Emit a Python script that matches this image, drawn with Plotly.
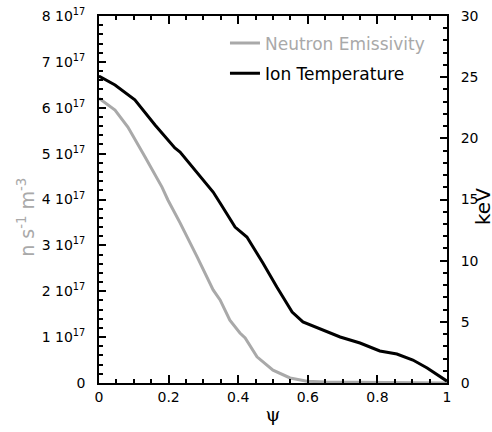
import plotly.graph_objects as go

# Ion temperature (keV) vs psi
psi_ti = [0.0, 0.003, 0.046, 0.103, 0.161, 0.218, 0.233, 0.276, 0.328, 0.348, 0.391, 0.425,
          0.471, 0.511, 0.555, 0.586, 0.635, 0.693, 0.750, 0.807, 0.856, 0.902, 0.943, 0.980, 1.0]
ti_kev = [25.05, 25.04, 24.36, 23.14, 21.09, 19.21, 18.88, 17.41, 15.61, 14.71, 12.75, 11.93,
          9.81, 7.85, 5.80, 4.99, 4.41, 3.76, 3.27, 2.62, 2.37, 1.88, 1.23, 0.49, 0.15]

# Neutron emissivity (n s^-1 m^-3) vs psi
psi_ne = [0.0, 0.003, 0.046, 0.083, 0.132, 0.181, 0.198, 0.233, 0.282, 0.328, 0.348, 0.376,
          0.405, 0.420, 0.454, 0.500, 0.549, 0.598, 0.65, 0.75, 0.85, 0.95, 1.0]
ne_e17 = [6.20, 6.19, 5.95, 5.58, 4.93, 4.27, 3.99, 3.49, 2.75, 2.03, 1.81, 1.37,
          1.09, 0.98, 0.57, 0.28, 0.11, 0.04, 0.02, 0.01, 0.01, 0.0, 0.0]
ne_vals = [v * 1e17 for v in ne_e17]

# tick label text for the left axis (default d3 ".0e" labels mapped to "N 10^17")
NB = "\u00a0"
left_alias = {"0e+0": "0" + NB * 2}
left_alias.update({f"{i}e+17": f"{i} 10<sup>17</sup>" + NB * 2 for i in range(1, 9)})

GRAY = "#a9a9a9"
FONT = "DejaVu Sans"
CLEAR = "rgba(0,0,0,0)"

fig = go.Figure()
fig.add_trace(go.Scatter(
    x=psi_ne, y=ne_vals, mode="lines", xaxis="x", yaxis="y",
    line=dict(color=GRAY, width=3),
    name=f"<span style='color:{GRAY}'>Neutron Emissivity</span>",
    legendgroup="a",
))
fig.add_trace(go.Scatter(
    x=psi_ti, y=ti_kev, mode="lines", xaxis="x", yaxis="y2",
    line=dict(color="black", width=3),
    name="Ion Temperature",
    legendgroup="b",
))

common = dict(showline=True, linecolor="black", linewidth=2,
              gridcolor=CLEAR, zerolinecolor=CLEAR,
              ticks="inside", tickwidth=2, tickcolor="black", automargin=False)

fig.update_layout(
    width=492, height=432,
    margin=dict(l=99, r=45, t=16, b=49),
    paper_bgcolor="white", plot_bgcolor="white",
    font=dict(family=FONT, size=14, color="black"),
    showlegend=True,
    legend=dict(x=0.362, y=0.974, xanchor="left", yanchor="top",
                bgcolor=CLEAR, borderwidth=0,
                font=dict(family=FONT, size=17, color="black"),
                tracegroupgap=5),
    xaxis=dict(range=[0, 1], tickmode="linear", tick0=0, dtick=0.2,
               mirror="ticks", ticklen=8,
               minor=dict(dtick=0.05, tick0=0, ticks="inside", ticklen=4,
                          tickcolor="black"),
               title=dict(text="ψ", font=dict(family="DejaVu Serif", size=19), standoff=4),
               **common),
    yaxis=dict(range=[0, 8e17], tickmode="linear", tick0=0, dtick=1e17,
               tickformat=".0e", labelalias=left_alias, ticklen=7,
               minor=dict(dtick=0.2e17, tick0=0, ticks="inside", ticklen=4,
                          tickcolor="black"),
               **common),
    yaxis2=dict(range=[0, 30], overlaying="y", side="right",
                tickmode="linear", tick0=0, dtick=5, ticklen=7, tickprefix=NB * 2,
                minor=dict(dtick=1, tick0=0, ticks="inside", ticklen=4,
                           tickcolor="black"),
                **common),
    annotations=[
        dict(text="n s<sup>-1</sup> m<sup>-3</sup>", xref="paper", yref="paper",
             x=-0.25, y=0.45, textangle=-90, showarrow=False,
             font=dict(family=FONT, size=19, color=GRAY)),
        dict(text="keV", xref="paper", yref="paper",
             x=1.104, y=0.48, xanchor="center", textangle=-90, showarrow=False,
             font=dict(family=FONT, size=20, color="black")),
    ],
)

fig.write_html("out.html")
